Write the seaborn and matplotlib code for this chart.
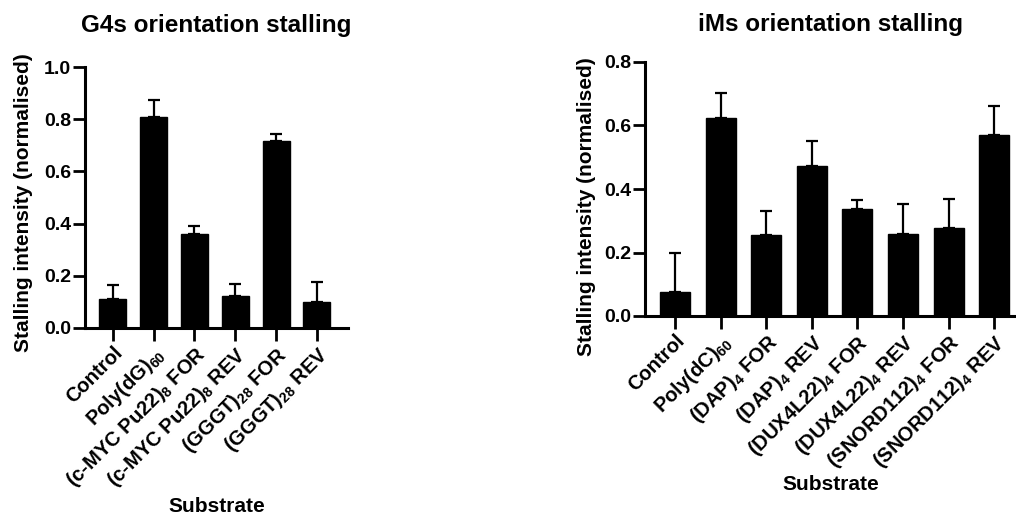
import matplotlib
matplotlib.use("Agg")
import matplotlib.pyplot as plt
import seaborn as sns
import numpy as np

# G4s panel
g4_labels = ["Control", "Poly(dG)$_{60}$", "(c-MYC Pu22)$_{8}$ FOR",
             "(c-MYC Pu22)$_{8}$ REV", "(GGGT)$_{28}$ FOR", "(GGGT)$_{28}$ REV"]
g4_mean = [0.111, 0.808, 0.360, 0.123, 0.717, 0.100]
g4_err = [0.054, 0.066, 0.030, 0.046, 0.026, 0.077]

# iMs panel
im_labels = ["Control", "Poly(dC)$_{60}$", "(DAP)$_{4}$ FOR", "(DAP)$_{4}$ REV",
             "(DUX4L22)$_{4}$ FOR", "(DUX4L22)$_{4}$ REV",
             "(SNORD112)$_{4}$ FOR", "(SNORD112)$_{4}$ REV"]
im_mean = [0.077, 0.623, 0.255, 0.473, 0.336, 0.258, 0.276, 0.571]
im_err = [0.121, 0.079, 0.077, 0.079, 0.030, 0.094, 0.093, 0.089]

sns.set_style("ticks")
plt.rcParams["font.family"] = ["Liberation Sans", "DejaVu Sans"]
plt.rcParams["font.weight"] = "bold"
plt.rcParams["mathtext.fontset"] = "custom"
plt.rcParams["mathtext.rm"] = "Liberation Sans"
plt.rcParams["mathtext.default"] = "rm"
for k in ["text.color", "axes.labelcolor", "xtick.color", "ytick.color",
          "axes.edgecolor"]:
    plt.rcParams[k] = "black"

fig = plt.figure(figsize=(10.16, 5.15), dpi=100)
W, H = 1016, 515


def panel(rect_px, labels, mean, err, ymax, title, xlim, xlab_y, tpad):
    l, t, r, b = rect_px
    ax = fig.add_axes([l / W, 1 - b / H, (r - l) / W, (b - t) / H])
    sns.barplot(x=labels, y=mean, color="black", width=0.66, errorbar=None,
                saturation=1, edgecolor="black", ax=ax)
    ax.errorbar(np.arange(len(labels)), mean,
                yerr=[np.zeros(len(err)), err], fmt="none",
                ecolor="black", elinewidth=1.6, capsize=4.3, capthick=1.6)
    ax.set_ylim(0, ymax)
    ax.set_yticks(np.arange(0, ymax + 0.01, 0.2))
    ax.set_yticklabels([f"{v:.1f}" for v in np.arange(0, ymax + 0.01, 0.2)])
    ax.set_xlim(*xlim)
    for s in ["top", "right"]:
        ax.spines[s].set_visible(False)
    for s in ["left", "bottom"]:
        ax.spines[s].set_linewidth(2.2)
        ax.spines[s].set_color("black")
    ax.tick_params(axis="both", width=2, length=9, color="black")
    ax.tick_params(axis="y", labelsize=14, pad=1)
    ax.tick_params(axis="x", labelsize=14.5, pad=2)
    plt.setp(ax.get_xticklabels(), rotation=45, ha="right",
             rotation_mode="anchor", fontweight="bold")
    plt.setp(ax.get_yticklabels(), fontweight="bold")
    ax.set_title(title, fontsize=17.5, fontweight="bold", pad=tpad)
    ax.set_ylabel("Stalling intensity (normalised)", fontsize=15,
                  fontweight="bold")
    ax.set_xlabel("Substrate", fontsize=15, fontweight="bold")
    ax.xaxis.set_label_coords(0.5, xlab_y)
    return ax


ax1 = panel((85, 67, 348, 328), g4_labels, g4_mean, g4_err, 1.0,
            "G4s orientation stalling", (-0.68, 5.76), -0.647, 25)
ax1.yaxis.set_label_coords(-0.197, 0.48)

ax2 = panel((645, 62, 1016, 316), im_labels, im_mean, im_err, 0.8,
            "iMs orientation stalling", (-0.66, 7.48), -0.626, 22)
ax2.yaxis.set_label_coords(-0.133, 0.43)

fig.savefig("out.png", dpi=100)
